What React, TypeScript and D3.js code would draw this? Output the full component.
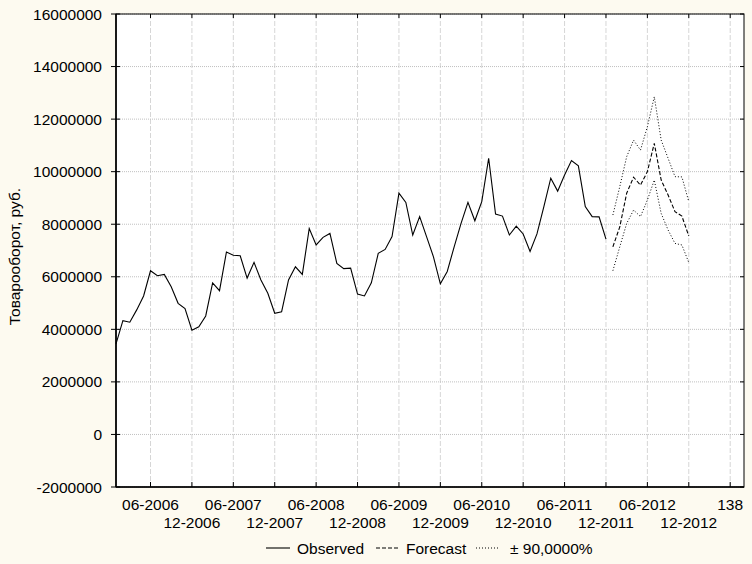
import React from "react";
import * as d3 from "d3";

const W = 752;
const H = 564;

// case numbers: observed starts at case 49 (01-2006)
const OBS_START = 49;
const observed = [
  3.45, 4.33, 4.27, 4.74, 5.27, 6.23, 6.04, 6.09, 5.62, 4.99,
  4.79, 3.97, 4.1, 4.51, 5.77, 5.47, 6.94, 6.82, 6.8, 5.95,
  6.55, 5.88, 5.37, 4.61, 4.67, 5.88, 6.38, 6.09, 7.84, 7.21,
  7.5, 7.65, 6.51, 6.31, 6.33, 5.34, 5.27, 5.77, 6.89, 7.04,
  7.53, 9.18, 8.83, 7.59, 8.29, 7.53, 6.76, 5.73, 6.2, 7.14,
  8.03, 8.83, 8.13, 8.86, 10.51, 8.39, 8.31, 7.59, 7.93, 7.63,
  6.96, 7.63, 8.67, 9.75, 9.26, 9.87, 10.42, 10.22, 8.67, 8.29,
  8.28, 7.43,
].map((v) => v * 1e6);

const FC_START = 121;
const forecast = [7.14, 7.9, 9.18, 9.79, 9.49, 10.0, 11.08, 9.68, 9.11, 8.48, 8.31, 7.55].map((v) => v * 1e6);
const upper = [8.35, 9.43, 10.57, 11.2, 10.82, 11.71, 12.85, 11.2, 10.51, 9.81, 9.8, 8.86].map((v) => v * 1e6);
const lower = [6.23, 7.14, 8.03, 8.54, 8.29, 8.92, 9.68, 8.41, 7.78, 7.27, 7.21, 6.54].map((v) => v * 1e6);

const xTicks = [54, 60, 66, 72, 78, 84, 90, 96, 102, 108, 114, 120, 126, 132, 138];
const xTickLabels = [
  "06-2006", "12-2006", "06-2007", "12-2007", "06-2008", "12-2008", "06-2009", "12-2009",
  "06-2010", "12-2010", "06-2011", "12-2011", "06-2012", "12-2012", "138",
];
const yTicks = [-2e6, 0, 2e6, 4e6, 6e6, 8e6, 10e6, 12e6, 14e6, 16e6];

const yTitle = "Товарооборот, руб.";
const legendItems = ["Observed", "Forecast", "± 90,0000%"];

const FONT = "'Liberation Sans', Arial, sans-serif";

export default function App() {
  const left = 116, right = 744, top = 14, bottom = 487;
  const x = d3.scaleLinear().domain([49, 140]).range([left, right]);
  const y = d3.scaleLinear().domain([-2e6, 16e6]).range([bottom, top]);

  const line = d3
    .line<[number, number]>()
    .x((d) => x(d[0]))
    .y((d) => y(d[1]));

  const obsPts = observed.map((v, i) => [OBS_START + i, v] as [number, number]);
  const fcPts = forecast.map((v, i) => [FC_START + i, v] as [number, number]);
  const upPts = upper.map((v, i) => [FC_START + i, v] as [number, number]);
  const loPts = lower.map((v, i) => [FC_START + i, v] as [number, number]);

  const fs = 15.5;

  return (
    <svg
      width={W}
      height={H}
      style={{ position: "fixed", left: 0, top: 0, fontFamily: FONT }}
    >
      <rect x={0} y={0} width={W} height={H} fill="#fdfaf0" />
      <rect x={left} y={top} width={right - left} height={bottom - top} fill="#ffffff" />

      {/* grid */}
      {xTicks.map((t) => (
        <line
          key={"gx" + t}
          x1={x(t)}
          x2={x(t)}
          y1={top}
          y2={bottom}
          stroke="#d6d6d6"
          strokeDasharray="5,2"
          strokeWidth={1}
        />
      ))}
      {yTicks.map((t) => (
        <line
          key={"gy" + t}
          x1={left}
          x2={right}
          y1={y(t)}
          y2={y(t)}
          stroke="#c0c0c0"
          strokeDasharray="1,1"
          strokeWidth={1}
        />
      ))}

      {/* series */}
      <path d={line(obsPts) || ""} fill="none" stroke="#000" strokeWidth={1.1} />
      <path d={line(fcPts) || ""} fill="none" stroke="#000" strokeWidth={1.1} strokeDasharray="4,2" />
      <path d={line(upPts) || ""} fill="none" stroke="#000" strokeWidth={1} strokeDasharray="1,2" />
      <path d={line(loPts) || ""} fill="none" stroke="#000" strokeWidth={1} strokeDasharray="1,2" />

      {/* frame */}
      <rect x={left} y={top} width={right - left} height={bottom - top} fill="none" stroke="#000" strokeWidth={1} />
      <line x1={left} x2={left} y1={top} y2={bottom} stroke="#000" strokeWidth={1.6} />
      <line x1={left} x2={right} y1={bottom} y2={bottom} stroke="#000" strokeWidth={1.4} />

      {/* ticks */}
      {yTicks.map((t) => (
        <g key={"ty" + t}>
          <line x1={left - 5} x2={left + 4} y1={y(t)} y2={y(t)} stroke="#000" />
          <line x1={right - 4} x2={right} y1={y(t)} y2={y(t)} stroke="#000" />
          <text
            x={102}
            y={y(t)}
            textAnchor="end"
            dominantBaseline="central"
            fontSize={fs}
            fill="#000"
          >
            {String(t)}
          </text>
        </g>
      ))}
      {xTicks.map((t, i) => (
        <g key={"tx" + t}>
          <line x1={x(t)} x2={x(t)} y1={bottom - 5} y2={bottom} stroke="#000" />
          <line x1={x(t)} x2={x(t)} y1={top} y2={top + 4} stroke="#000" />
          <text
            x={x(t)}
            y={i % 2 === 0 ? 510 : 528}
            textAnchor="middle"
            fontSize={fs}
            fill="#000"
          >
            {xTickLabels[i]}
          </text>
        </g>
      ))}

      {/* y title */}
      <text
        transform={`translate(20, ${(top + bottom) / 2 + 6}) rotate(-90)`}
        textAnchor="middle"
        fontSize={fs}
        fill="#000"
      >
        {yTitle}
      </text>

      {/* legend */}
      <g fontSize={fs} fill="#000">
        <line x1={266} x2={290} y1={548} y2={548} stroke="#000" strokeWidth={1.1} />
        <text x={297} y={553.5}>{legendItems[0]}</text>
        <line x1={376} x2={398} y1={548} y2={548} stroke="#000" strokeWidth={1.1} strokeDasharray="4,2" />
        <text x={406} y={553.5}>{legendItems[1]}</text>
        <line x1={476} x2={500} y1={548} y2={548} stroke="#000" strokeWidth={1} strokeDasharray="1,2" />
        <text x={510} y={553.5}>{legendItems[2]}</text>
      </g>
    </svg>
  );
}
